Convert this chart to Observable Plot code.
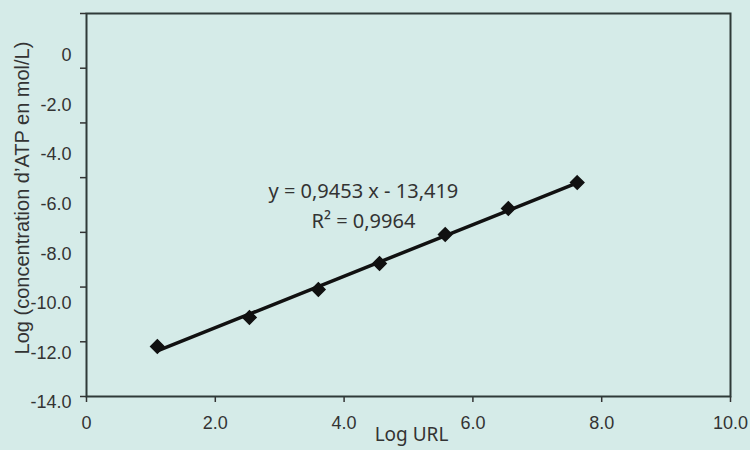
<!DOCTYPE html>
<html>
<head>
<meta charset="utf-8">
<script src="https://cdn.jsdelivr.net/npm/d3@7"></script>
<script src="https://cdn.jsdelivr.net/npm/@observablehq/plot@0.6"></script>
<style>
  html, body { margin: 0; padding: 0; background: #d5ebe8; overflow: hidden; }
  #chart svg { display: block; }
</style>
</head>
<body>
<div id="chart"></div>
<script>
// Data
const logURL = [1.10, 2.53, 3.60, 4.55, 5.57, 6.55, 7.62];
const logATP = [-12.17, -11.11, -10.09, -9.14, -8.08, -7.13, -6.18];

const xTicks = [0, 2, 4, 6, 8, 10];
const xTickLabels = ["0", "2.0", "4.0", "6.0", "8.0", "10.0"];
const yTicks = [0, -2, -4, -6, -8, -10, -12, -14];
const yTickLabels = ["0", "-2.0", "-4.0", "-6.0", "-8.0", "-10.0", "-12.0", "-14.0"];

const equationLines = ["y = 0,9453 x - 13,419", "R² = 0,9964"];
const xTitle = "Log URL";
const yTitle = "Log (concentration d\u2019ATP en mol/L)";

const points = logURL.map((x, i) => ({x, y: logATP[i]}));
const yLabelRows = yTicks.map((v, i) => ({v, label: yTickLabels[i]}));

const textColor = "#333";
const sans = "'Liberation Sans', Arial, sans-serif";
const geo = "'Noto Sans', sans-serif";

const chart = Plot.plot({
  width: 750,
  height: 450,
  marginLeft: 86,
  marginRight: 20,
  marginTop: 13,
  marginBottom: 54,
  style: {background: "#d5ebe8", fontFamily: sans, fontSize: "18px", color: textColor, overflow: "visible"},
  x: {domain: [0, 10], label: null},
  y: {domain: [-14, 0], label: null},
  marks: [
    Plot.axisX(xTicks, {tickSize: 6, tickPadding: 14, tickFormat: (d) => xTickLabels[xTicks.indexOf(d)], stroke: "#333", strokeWidth: 1.5, fill: textColor, fontSize: 18, label: null}),
    Plot.axisY(yTicks, {tickSize: 6, tickFormat: () => "", stroke: "#333", strokeWidth: 1.5, label: null}),
    // tick labels as printed (offset relative to ticks in the source)
    Plot.text(yLabelRows, {
      y: (d) => -1.537 + 0.906 * d.v,
      text: "label",
      frameAnchor: "left",
      textAnchor: "end",
      dx: -15,
      fill: textColor,
      fontSize: 18
    }),
    Plot.frame({stroke: "#2f3a38", strokeWidth: 2}),
    Plot.linearRegressionY(points, {x: "x", y: "y", ci: 0, stroke: "#111", strokeWidth: 3.5}),
    Plot.dot(points, {x: "x", y: "y", symbol: "diamond2", r: 6, fill: "#111", stroke: "#111"}),
    Plot.text([equationLines.join("\n")], {
      x: 4.3, y: -6.95,
      text: (d) => d,
      lineAnchor: "middle",
      lineHeight: 1.5,
      fontFamily: geo,
      fontSize: 20,
      fill: textColor
    }),
    Plot.text([xTitle], {text: (d) => d, frameAnchor: "bottom", dx: 3, dy: 44, fontSize: 19, fontFamily: geo, fill: textColor}),
    Plot.text([yTitle], {text: (d) => d, frameAnchor: "left", textAnchor: "middle", rotate: -90, dx: -64, dy: -7, fontSize: 20, fill: textColor})
  ]
});
document.getElementById("chart").appendChild(chart);
</script>
</body>
</html>
